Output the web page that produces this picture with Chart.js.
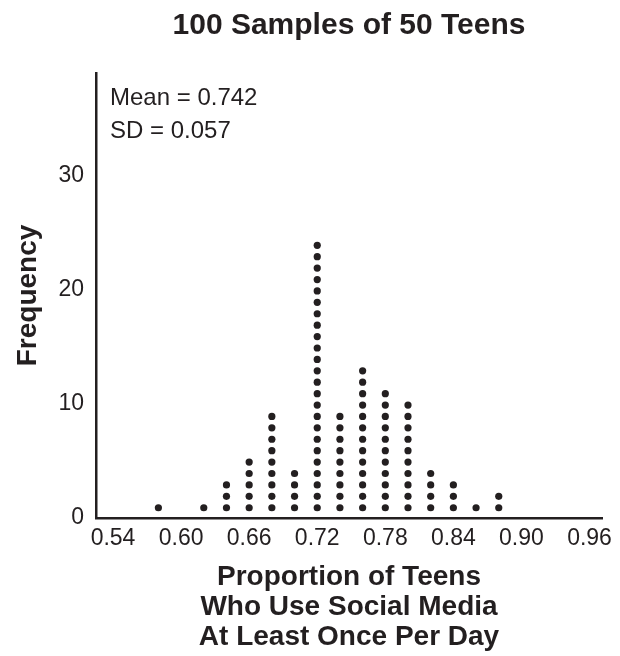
<!DOCTYPE html>
<html>
<head>
<meta charset="utf-8">
<script src="https://cdn.jsdelivr.net/npm/chart.js@4/dist/chart.umd.min.js"></script>
<style>
  html, body { margin: 0; padding: 0; background: #fff; }
  #wrap { width: 620px; height: 656px; }
</style>
</head>
<body>
<div id="wrap"><canvas id="dotChart"></canvas></div>
<script>
// Data
const proportions = [0.58, 0.62, 0.64, 0.66, 0.68, 0.70, 0.72, 0.74, 0.76, 0.78, 0.80, 0.82, 0.84, 0.86, 0.88];
const counts = [1, 1, 3, 5, 9, 4, 24, 9, 13, 11, 10, 4, 3, 1, 2];
const xTicks = [0.54, 0.60, 0.66, 0.72, 0.78, 0.84, 0.90, 0.96];
const yTicks = [0, 10, 20, 30];
const chartTitle = "100 Samples of 50 Teens";
const xTitle = ["Proportion of Teens", "Who Use Social Media", "At Least Once Per Day"];
const yTitle = "Frequency";
const stats = ["Mean = 0.742", "SD = 0.057"];

const ink = "#231f20";
const fam = "'Liberation Sans', Arial, sans-serif";

// one dot per sample, stacked up each column
const dots = [];
proportions.forEach((p, i) => {
  for (let k = 1; k <= counts[i]; k++) {
    dots.push({ x: p, y: k - 0.1 });
  }
});

// Titles and the stats box
const textPlugin = {
  id: "texts",
  afterDraw(chart) {
    const ctx = chart.ctx;
    const area = chart.chartArea;
    const cx = (area.left + area.right) / 2;
    ctx.save();
    ctx.fillStyle = ink;
    ctx.textAlign = "center";
    ctx.textBaseline = "alphabetic";
    ctx.font = "bold 30px " + fam;
    ctx.fillText(chartTitle, cx, 34);

    ctx.font = "bold 28px " + fam;
    xTitle.forEach((line, i) => ctx.fillText(line, cx, 585 + i * 30));

    ctx.save();
    ctx.translate(36, (area.top + area.bottom) / 2);
    ctx.rotate(-Math.PI / 2);
    ctx.fillText(yTitle, 0, 0);
    ctx.restore();

    ctx.textAlign = "left";
    ctx.font = "24px " + fam;
    stats.forEach((line, i) => ctx.fillText(line, 110, 105 + i * 33));
    ctx.restore();
  }
};

new Chart(document.getElementById("dotChart"), {
  type: "scatter",
  data: {
    datasets: [{
      data: dots,
      pointRadius: 3.6,
      pointHoverRadius: 3.6,
      pointBackgroundColor: ink,
      pointBorderWidth: 0
    }]
  },
  options: {
    responsive: true,
    maintainAspectRatio: false,
    animation: false,
    layout: { padding: { top: 73, right: 18, left: 0, bottom: 0 } },
    plugins: {
      legend: { display: false },
      tooltip: { enabled: false }
    },
    scales: {
      x: {
        type: "linear",
        min: 0.525,
        max: 0.971,
        grid: { display: false, drawTicks: false },
        border: { display: true, color: ink, width: 2.5 },
        afterBuildTicks: s => { s.ticks = xTicks.map(v => ({ value: v })); },
        afterFit: s => { s.height = 138; s.paddingLeft = 0; s.paddingRight = 0; },
        ticks: {
          color: ink,
          padding: 7,
          font: { family: fam, size: 23 },
          callback: v => v.toFixed(2)
        }
      },
      y: {
        min: 0,
        max: 39,
        grid: { display: false, drawTicks: false },
        border: { display: true, color: ink, width: 2.5 },
        afterBuildTicks: s => { s.ticks = yTicks.map(v => ({ value: v })); },
        afterFit: s => { s.width = 96; s.paddingTop = 0; s.paddingBottom = 0; },
        ticks: {
          color: ink,
          padding: 12,
          font: { family: fam, size: 23 }
        }
      }
    }
  },
  plugins: [textPlugin]
});
</script>
</body>
</html>
